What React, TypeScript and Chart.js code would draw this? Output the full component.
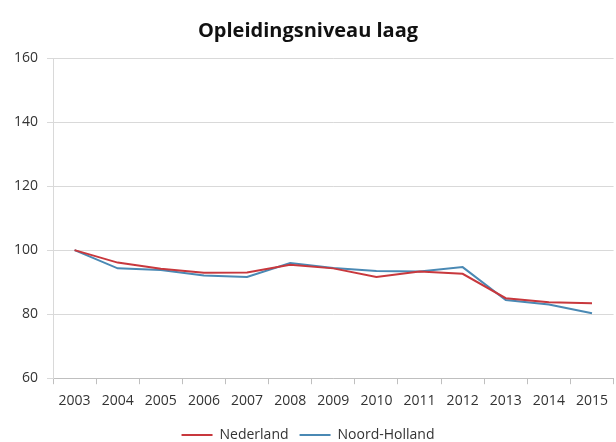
import React, { useEffect, useRef } from "react";
import { Chart, registerables } from "chart.js";

Chart.register(...registerables);

const years = ["2003", "2004", "2005", "2006", "2007", "2008", "2009", "2010", "2011", "2012", "2013", "2014", "2015"];
const nederland = [100, 96.1, 94.2, 92.9, 93.0, 95.4, 94.3, 91.6, 93.3, 92.6, 85.0, 83.7, 83.4];
const noordHolland = [100, 94.3, 93.8, 92.1, 91.6, 96.0, 94.4, 93.5, 93.3, 94.7, 84.4, 83.0, 80.3];
const titleText = "Opleidingsniveau laag";
const FONT = "'Open Sans', Lato, sans-serif";

export default function App() {
  const ref = useRef<HTMLCanvasElement | null>(null);
  useEffect(() => {
    if (!ref.current) return;
    const chart = new Chart(ref.current, {
      type: "line",
      data: {
        labels: years,
        datasets: [
          { label: "Nederland", data: nederland, borderColor: "#c8383d", backgroundColor: "#c8383d", borderWidth: 2, pointRadius: 0, tension: 0 },
          { label: "Noord-Holland", data: noordHolland, borderColor: "#4a89b4", backgroundColor: "#4a89b4", borderWidth: 2, pointRadius: 0, tension: 0 },
        ],
      },
      options: {
        animation: false,
        responsive: false,
        maintainAspectRatio: false,
        layout: { padding: { left: 0, right: 0, top: 0, bottom: -10 } },
        plugins: {
          title: {
            display: true,
            text: titleText,
            color: "#111",
            font: { family: FONT, size: 20, weight: "bold" },
            padding: { top: 19, bottom: 15 },
          },
          legend: {
            position: "bottom",
            labels: {
              usePointStyle: true,
              pointStyle: "line",
              pointStyleWidth: 31,
              boxHeight: 14,
              color: "#333",
              font: { family: FONT, size: 14 },
              padding: 11,
            },
          },
          tooltip: { enabled: false },
        },
        scales: {
          x: {
            offset: true,
            grid: { display: true, drawOnChartArea: false, offset: true, tickLength: 6, color: "#bfbfbf" },
            border: { display: true, color: "#bfbfbf", width: 1 },
            ticks: { color: "#333", font: { family: FONT, size: 14 }, padding: 8, maxRotation: 0, autoSkip: false },
          },
          y: {
            min: 60,
            max: 160,
            afterFit: (s: any) => { s.width = 53; },
            grid: { color: "#d9d9d9", tickLength: 6, drawTicks: true },
            border: { display: true, color: "#d9d9d9", width: 1 },
            ticks: { stepSize: 20, color: "#333", font: { family: FONT, size: 14 }, padding: 9 },
          },
        },
      },
    });
    return () => chart.destroy();
  }, []);
  return (
    <div style={{ position: "fixed", left: 0, top: 0, width: 616, height: 442, background: "#fff" }}>
      <canvas ref={ref} width={616} height={442} style={{ width: 616, height: 442, display: "block" }} />
    </div>
  );
}
